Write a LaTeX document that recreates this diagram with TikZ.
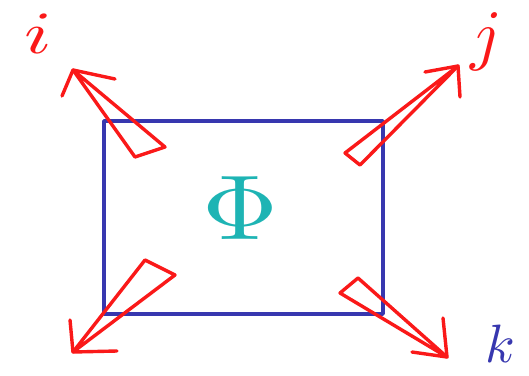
\documentclass[tikz,border=0pt]{standalone}
\definecolor{penred}{RGB}{250,25,25}
\definecolor{penblue}{RGB}{55,55,175}
\definecolor{pencyan}{RGB}{30,180,180}
\tikzset{
  wedge/.style={penred, line width=3.4pt, line join=round, line cap=round},
  lbl/.style={inner sep=0pt},
}
\begin{document}
\begin{tikzpicture}[x=1pt, y=-1pt]
  \useasboundingbox (0,0) rectangle (529,375);
  \draw[penblue, line width=3.4pt, line join=round] (104,121) rectangle (383,314);
  \node[lbl, pencyan, xscale=10.5, yscale=9.2] (phi) at (240,208) {$\Phi$};
  % top left
  \coordinate (tl) at (73,70);
  \draw[wedge] (tl) -- (135,157) -- (165,147) -- cycle;
  \draw[wedge] (62,96) -- (tl) -- (115,79);
  % top right
  \coordinate (tr) at (458,66);
  \draw[wedge] (tr) -- (345,153) -- (360,165) -- cycle;
  \draw[wedge] (425,72) -- (tr) -- (460,97);
  % bottom left
  \coordinate (bl) at (73,352);
  \draw[wedge] (bl) -- (145,260) -- (175,275) -- cycle;
  \draw[wedge] (70,320) -- (bl) -- (117,351);
  % bottom right
  \coordinate (br) at (447,357);
  \draw[wedge] (br) -- (340,293) -- (358,278) -- cycle;
  \draw[wedge] (443,318) -- (br) -- (412,352);
  \node[lbl, penred, xscale=8, yscale=6] (i) at (38,34) {$i$};
  \node[lbl, penred, scale=6.8] (j) at (486,42) {$j$};
  \node[lbl, penblue, scale=5.4] (k) at (500,344) {$k$};
\end{tikzpicture}
\end{document}
